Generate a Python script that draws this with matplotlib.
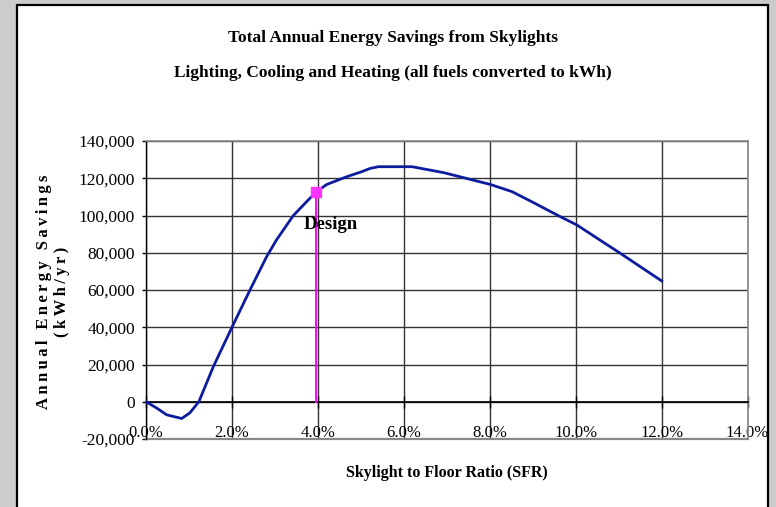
import matplotlib
matplotlib.use("Agg")
import matplotlib.pyplot as plt
from matplotlib.patches import Rectangle

# ---- data ----
sfr_pct = [0.0, 0.25, 0.48, 0.83, 1.02, 1.23, 1.57, 2.01, 2.42, 2.81, 3.04, 3.43,
           3.95, 4.21, 4.67, 5.02, 5.22, 5.41, 5.92, 6.19, 6.93, 8.01, 8.52, 9.02,
           9.64, 10.03, 10.5, 11.04, 12.0]
savings_kwh = [0, -3400, -7000, -9000, -6000, 0, 19000, 40400, 60000, 78000, 87000,
               100000, 112500, 116700, 120800, 123500, 125300, 126200, 126200, 126200,
               123000, 116700, 112800, 106900, 99400, 94900, 87800, 79700, 64900]
design_sfr = 3.95
design_savings = 112500
design_label = "Design"

x_ticks = [0, 2, 4, 6, 8, 10, 12, 14]
x_tick_labels = ["0.0%", "2.0%", "4.0%", "6.0%", "8.0%", "10.0%", "12.0%", "14.0%"]
y_ticks = [-20000, 0, 20000, 40000, 60000, 80000, 100000, 120000, 140000]
y_tick_labels = ["-20,000", "0", "20,000", "40,000", "60,000", "80,000",
                 "100,000", "120,000", "140,000"]

title1 = "Total Annual Energy Savings from Skylights"
title2 = "Lighting, Cooling and Heating (all fuels converted to kWh)"
xlabel = "Skylight to Floor Ratio (SFR)"
ylabel1 = "Annual Energy Savings"
ylabel2 = "(kWh/yr)"

SERIF = ["Liberation Serif", "DejaVu Serif"]
plt.rcParams["font.family"] = SERIF

W, H = 776, 507
fig = plt.figure(figsize=(W / 100, H / 100), dpi=100)
fig.patch.set_facecolor("#cccccc")
fig.add_artist(Rectangle((17 / W, -0.05), (768 - 17) / W, 1.05 - 5 / H,
                         transform=fig.transFigure, facecolor="white",
                         edgecolor="black", linewidth=1.6, zorder=0))

ax = fig.add_axes([146 / W, 1 - 439 / H, (747.5 - 146) / W, (439 - 141) / H])
ax.set_facecolor("none")

for s in ("top", "right"):
    ax.spines[s].set_color("#888888")
    ax.spines[s].set_linewidth(1.2)
ax.spines["left"].set_color("black")
ax.spines["left"].set_linewidth(1.0)
ax.spines["bottom"].set_position(("data", 0))
ax.spines["bottom"].set_color("black")
ax.spines["bottom"].set_linewidth(1.2)

ax.set_xlim(0, 14)
ax.set_ylim(-20000, 140000)

ax.set_xticks(x_ticks)
ax.set_xticklabels(x_tick_labels)
ax.set_yticks(y_ticks)
ax.set_yticklabels(y_tick_labels)

ax.tick_params(axis="x", direction="inout", length=9, width=1, pad=12.5,
               colors="black", labelsize=12)
ax.tick_params(axis="y", direction="out", length=3, width=1, pad=5,
               colors="black", labelsize=12.5)

ax.grid(True, color="#333333", linewidth=1.0, zorder=1)
ax.set_axisbelow(True)
ax.axhline(-20000, color="#888888", linewidth=1.6, clip_on=False, zorder=2)

ax.plot(sfr_pct, savings_kwh, color="#0c1c9c", linewidth=2.0, zorder=4)
ax.plot([design_sfr, design_sfr], [0, design_savings], color="#ff00ff",
        linewidth=1.4, zorder=3)
ax.plot([design_sfr], [design_savings], marker="s", markersize=7,
        color="#ff33ff", zorder=5)
ax.text(3.68, 92800, design_label, fontsize=13.5, fontweight="bold",
        ha="left", va="baseline", zorder=6)

fig.text(393 / W, 1 - 38 / H, title1, fontsize=12.5, fontweight="bold",
         ha="center", va="center")
fig.text(393 / W, 1 - 73 / H, title2, fontsize=12.5, fontweight="bold",
         ha="center", va="center")
fig.text(447 / W, 1 - 473 / H, xlabel, fontsize=11.5, fontweight="bold",
         ha="center", va="center")

ts = "\u2009"
yl = ts.join(ylabel1) + "\n" + ts.join(ylabel2)
fig.text(53 / W, 1 - 292 / H, yl, fontsize=12, fontweight="bold",
         rotation=90, ha="center", va="center", linespacing=1.15)

fig.savefig("out.png", dpi=100, facecolor=fig.get_facecolor())
